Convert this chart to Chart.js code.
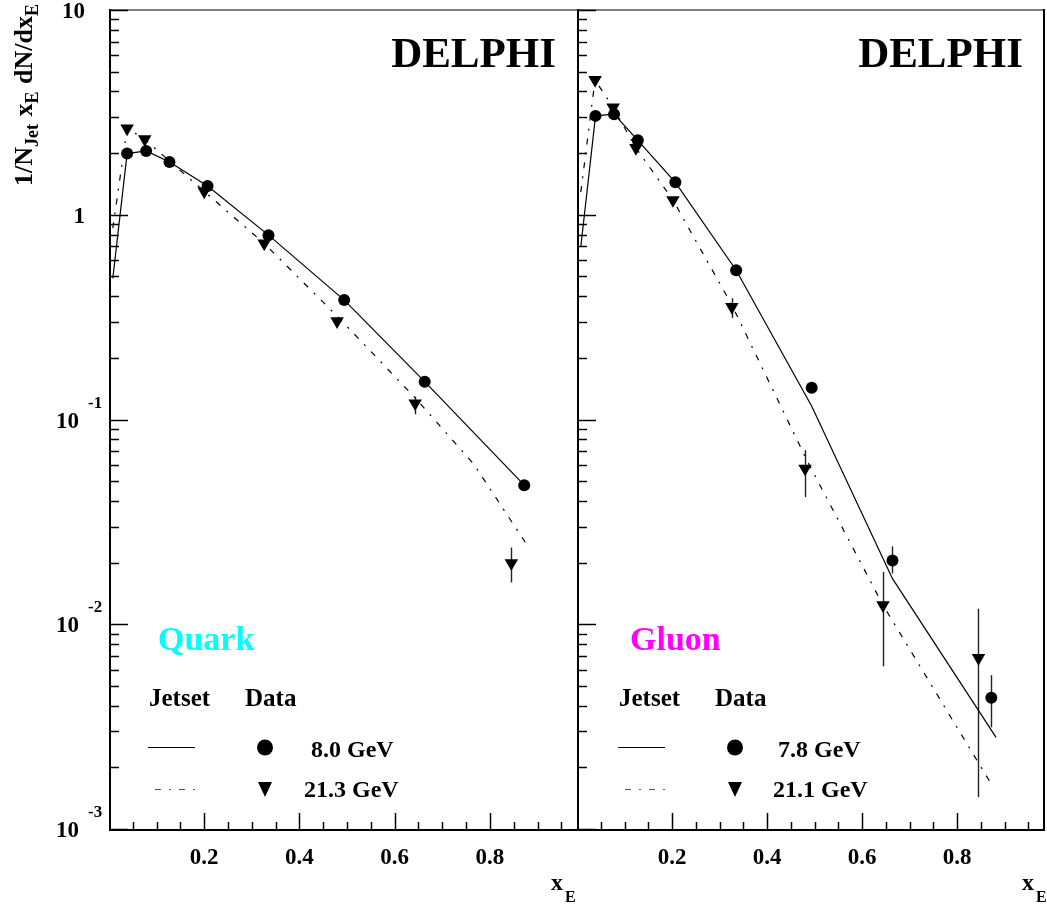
<!DOCTYPE html>
<html><head><meta charset="utf-8">
<script src="https://cdn.jsdelivr.net/npm/chart.js@4/dist/chart.umd.min.js"></script>
<style>
html,body{margin:0;padding:0;background:#fff;}
#wrap{position:relative;width:1047px;height:907px;overflow:hidden;background:#fff;}
canvas{position:absolute;top:0;}
</style></head><body>
<div id="wrap">
<canvas id="cq" width="578" height="907" style="left:0px"></canvas>
<canvas id="cg" width="470" height="907" style="left:577px"></canvas>
</div>
<script>
// ---------- DATA ----------
// Quark panel
const qData8X  = [0.038, 0.078, 0.127, 0.207, 0.335, 0.494, 0.663, 0.872];
const qData8Y  = [1.99, 2.05, 1.81, 1.38, 0.795, 0.383, 0.153, 0.0478];
const qData21X = [0.038, 0.075, 0.200, 0.326, 0.479, 0.643, 0.845];
const qData21Y = [2.64, 2.34, 1.30, 0.724, 0.302, 0.120, 0.0199];
const qData21Lo = [null, null, null, null, null, 0.106, 0.0160];
const qData21Hi = [null, null, null, null, null, 0.129, 0.0237];
const qJet8X  = [0.008, 0.038, 0.078, 0.127, 0.207, 0.335, 0.494, 0.663, 0.872];
const qJet8Y  = [0.489, 1.99, 2.05, 1.81, 1.38, 0.795, 0.383, 0.153, 0.0478];
const qJet21X = [0.008, 0.038, 0.075, 0.127, 0.200, 0.326, 0.479, 0.641, 0.765, 0.880];
const qJet21Y = [0.86, 2.64, 2.34, 1.83, 1.30, 0.724, 0.320, 0.129, 0.061, 0.0240];
// Gluon panel
const gData7X  = [0.039, 0.078, 0.128, 0.207, 0.335, 0.494, 0.664, 0.872];
const gData7Y  = [3.04, 3.10, 2.31, 1.44, 0.536, 0.143, 0.0205, 0.00438];
const gData7Lo = [null, null, null, null, null, null, 0.0177, 0.00314];
const gData7Hi = [null, null, null, null, null, null, 0.0240, 0.00564];
const gData21X = [0.038, 0.076, 0.124, 0.202, 0.326, 0.480, 0.644, 0.845];
const gData21Y = [4.55, 3.34, 2.12, 1.18, 0.355, 0.0576, 0.0124, 0.00685];
const gData21Lo = [null, null, null, null, 0.313, 0.0418, 0.00623, 0.00143];
const gData21Hi = [null, null, null, null, 0.391, 0.0709, 0.0180, 0.0119];
const gJet7X  = [0.008, 0.039, 0.078, 0.128, 0.207, 0.335, 0.494, 0.664, 0.882];
const gJet7Y  = [0.697, 3.04, 3.10, 2.31, 1.44, 0.536, 0.116, 0.0167, 0.0028];
const gJet21X = [0.008, 0.038, 0.076, 0.124, 0.202, 0.326, 0.486, 0.644, 0.876];
const gJet21Y = [1.29, 4.55, 3.34, 2.12, 1.18, 0.362, 0.0618, 0.0124, 0.0016];
// Axis ticks
const xMajorTicks = [0.2, 0.4, 0.6, 0.8];
const xTickLabels = ['0.2', '0.4', '0.6', '0.8'];
const yDecades = [-3, -2, -1, 0, 1];
// ---------- END DATA ----------

const F = '"Liberation Serif","Times New Roman",Times,serif';
function pts(xs, ys){ return xs.map((x,i)=>({x:x, y:ys[i]})); }

function lineDs(xs, ys, dash){
  return {data: pts(xs, ys), showLine: true, borderColor: '#000', borderWidth: 1.2,
    borderDash: dash || [], pointRadius: 0, tension: 0, fill: false};
}
function circleDs(xs, ys){
  return {data: pts(xs, ys), showLine: false, pointStyle: 'circle', pointRadius: 6,
    pointBackgroundColor: '#000', pointBorderColor: '#000', pointBorderWidth: 0};
}
function triDs(xs, ys){
  return {data: pts(xs, ys), showLine: false, pointStyle: 'triangle', pointRotation: 180, pointRadius: 7.8,
    pointBackgroundColor: '#000', pointBorderColor: '#000', pointBorderWidth: 0};
}

const DASHDOT = [6, 8, 2, 8];

function panelPlugin(cfg){
  return {
    id: 'panel_' + cfg.name,
    beforeDatasetsDraw(chart){
      const ctx = chart.ctx, xs = chart.scales.x, ys = chart.scales.y;
      ctx.save();
      ctx.strokeStyle = '#222'; ctx.lineWidth = 1.4;
      cfg.errors.forEach(e => {
        e.x.forEach((xv, i) => {
          if (e.lo[i] == null) return;
          const px = Math.round(xs.getPixelForValue(xv)) + 0.5;
          ctx.beginPath();
          ctx.moveTo(px, ys.getPixelForValue(e.lo[i]));
          ctx.lineTo(px, ys.getPixelForValue(e.hi[i]));
          ctx.stroke();
        });
      });
      ctx.restore();
    },
    afterDraw(chart){
      const ctx = chart.ctx, a = chart.chartArea, xs = chart.scales.x, ys = chart.scales.y, o = cfg.offset;
      ctx.save();
      // frame
      ctx.strokeStyle = '#808080'; ctx.lineWidth = 2;
      ctx.beginPath(); ctx.moveTo(a.left, a.top); ctx.lineTo(a.right, a.top); ctx.stroke();
      ctx.strokeStyle = '#000';
      const ax = a.left + 1, by = a.bottom + 1;
      ctx.beginPath(); ctx.moveTo(ax, a.top - 1); ctx.lineTo(ax, by + 1); ctx.stroke();
      ctx.beginPath(); ctx.moveTo(a.left, by); ctx.lineTo(a.right, by); ctx.stroke();
      if (cfg.rightBorder) { ctx.beginPath(); ctx.moveTo(a.right - 1, a.top - 1); ctx.lineTo(a.right - 1, by + 1); ctx.stroke(); }
      // y ticks
      ctx.lineWidth = 1.5;
      yDecades.forEach(d => {
        const base = Math.pow(10, d);
        const py = Math.round(ys.getPixelForValue(base)) + 0.5;
        ctx.beginPath(); ctx.moveTo(ax, py); ctx.lineTo(ax + 18, py); ctx.stroke();
        if (d < 1) {
          for (let k = 2; k <= 9; k++) {
            const pk = Math.round(ys.getPixelForValue(k * base)) + 0.5;
            ctx.beginPath(); ctx.moveTo(ax, pk); ctx.lineTo(ax + 9, pk); ctx.stroke();
          }
        }
      });
      // x ticks
      for (let i = 1; i <= 19; i++) {
        const v = i * 0.05;
        const px = Math.round(xs.getPixelForValue(v)) + 0.5;
        const len = (i % 4 === 0) ? 17 : 8;
        ctx.beginPath(); ctx.moveTo(px, by); ctx.lineTo(px, by - len); ctx.stroke();
      }
      // x tick labels
      ctx.fillStyle = '#000';
      ctx.font = 'bold 23px ' + F;
      ctx.textAlign = 'center'; ctx.textBaseline = 'alphabetic';
      xMajorTicks.forEach((v, i) => {
        ctx.fillText(xTickLabels[i], xs.getPixelForValue(v), 864);
      });
      // x axis title
      ctx.textAlign = 'left';
      ctx.font = 'bold 24px ' + F; ctx.fillText('x', cfg.xTitleX - o, 890);
      ctx.font = 'bold 16px ' + F; ctx.fillText('E', cfg.xTitleX - o + 14, 902);
      // y labels and title
      if (cfg.yLabels) {
        ctx.font = 'bold 23px ' + F;
        yDecades.forEach(d => {
          const py = ys.getPixelForValue(Math.pow(10, d));
          if (d >= 0) {
            ctx.textAlign = 'right';
            ctx.fillText(d === 1 ? '10' : '1', 85, py + 8);
          } else {
            ctx.textAlign = 'left';
            ctx.font = 'bold 23px ' + F;
            ctx.fillText('10', 56, py + 8);
            ctx.font = 'bold 17px ' + F;
            ctx.fillText(String(d), 88, py - 12);
            ctx.font = 'bold 23px ' + F;
          }
        });
        // rotated title
        ctx.save();
        ctx.translate(32, 186);
        ctx.rotate(-Math.PI / 2);
        ctx.textAlign = 'left';
        let x = 0;
        const parts = [['1/N', 0], ['Jet', 1], [' x', 0], ['E', 1], [' dN/dx', 0], ['E', 1]];
        parts.forEach(p => {
          ctx.font = p[1] ? 'bold 18px ' + F : 'bold 26px ' + F;
          ctx.fillText(p[0], x, p[1] ? 6 : 0);
          x += ctx.measureText(p[0]).width + (p[1] ? 1 : 0);
        });
        ctx.restore();
      }
      // DELPHI
      ctx.textAlign = 'right';
      ctx.font = 'bold 43px ' + F;
      ctx.fillText('DELPHI', a.right - 22, 67);
      // panel label
      ctx.textAlign = 'left';
      ctx.font = 'bold 34px ' + F;
      ctx.fillStyle = cfg.labelColor;
      ctx.fillText(cfg.label, cfg.labelX - o, 650);
      // legend
      ctx.fillStyle = '#000';
      ctx.font = 'bold 25px ' + F;
      ctx.fillText('Jetset', cfg.legX - o, 706);
      ctx.fillText('Data', cfg.legX - o + 96, 706);
      ctx.strokeStyle = '#000'; ctx.lineWidth = 1.2;
      ctx.beginPath(); ctx.moveTo(cfg.legX - o - 1, 747.5); ctx.lineTo(cfg.legX - o + 46, 747.5); ctx.stroke();
      ctx.strokeStyle = '#555';
      ctx.setLineDash(DASHDOT);
      ctx.beginPath(); ctx.moveTo(cfg.legX - o + 6, 789.5); ctx.lineTo(cfg.legX - o + 46, 789.5); ctx.stroke();
      ctx.setLineDash([]);
      const mx = cfg.legX - o + 116;
      ctx.beginPath(); ctx.arc(mx, 747.5, 8, 0, Math.PI * 2); ctx.fill();
      ctx.beginPath(); ctx.moveTo(mx - 7, 782); ctx.lineTo(mx + 7, 782); ctx.lineTo(mx, 797); ctx.closePath(); ctx.fill();
      ctx.font = 'bold 24px ' + F;
      ctx.fillText(cfg.e1, cfg.e1X - o, 757);
      ctx.fillText(cfg.e2, cfg.e2X - o, 797);
      ctx.restore();
    }
  };
}

function makeChart(id, pad, datasets, plugin){
  return new Chart(document.getElementById(id), {
    type: 'scatter',
    data: {datasets: datasets},
    options: {
      responsive: false, animation: false, devicePixelRatio: 1, events: [],
      layout: {padding: pad, autoPadding: false},
      plugins: {legend: {display: false}, tooltip: {enabled: false}, title: {display: false}},
      scales: {
        x: {type: 'linear', min: 0, max: 0.985, display: false},
        y: {type: 'logarithmic', min: 0.001, max: 10, display: false}
      }
    },
    plugins: [plugin]
  });
}

makeChart('cq', {left: 109, right: 0, top: 10, bottom: 78}, [
  lineDs(qJet8X, qJet8Y),
  lineDs(qJet21X, qJet21Y, DASHDOT),
  circleDs(qData8X, qData8Y),
  triDs(qData21X, qData21Y)
], panelPlugin({
  name: 'q', offset: 0, yLabels: true, rightBorder: false,
  errors: [{x: qData21X, lo: qData21Lo, hi: qData21Hi}],
  label: 'Quark', labelColor: '#00ffff', labelX: 158,
  legX: 149, e1: '8.0 GeV', e1X: 311, e2: '21.3 GeV', e2X: 304, xTitleX: 551
}));

makeChart('cg', {left: 0, right: 2, top: 10, bottom: 78}, [
  lineDs(gJet7X, gJet7Y),
  lineDs(gJet21X, gJet21Y, DASHDOT),
  circleDs(gData7X, gData7Y),
  triDs(gData21X, gData21Y)
], panelPlugin({
  name: 'g', offset: 577, yLabels: false, rightBorder: true,
  errors: [{x: gData7X, lo: gData7Lo, hi: gData7Hi}, {x: gData21X, lo: gData21Lo, hi: gData21Hi}],
  label: 'Gluon', labelColor: '#ff00ff', labelX: 630,
  legX: 619, e1: '7.8 GeV', e1X: 778, e2: '21.1 GeV', e2X: 773, xTitleX: 1022
}));
</script>
</body></html>
